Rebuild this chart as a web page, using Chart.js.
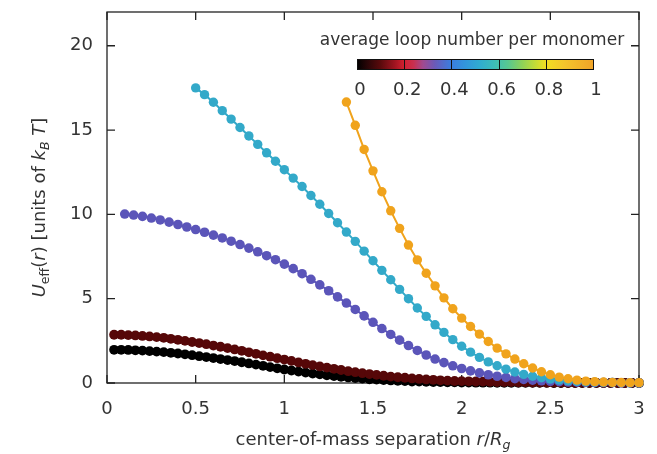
<!DOCTYPE html>
<html>
<head>
<meta charset="utf-8">
<script src="https://cdn.jsdelivr.net/npm/chart.js@4.4.1/dist/chart.umd.min.js"></script>
<style>
  html, body { margin: 0; padding: 0; background: #fff; }
  #wrap { width: 657px; height: 454px; }
</style>
</head>
<body>
<div id="wrap"><canvas id="uChart" width="657" height="454"></canvas></div>
<script>
// separations r/Rg (two grids used by the data)
const rFine = [0.04, 0.08, 0.12, 0.16, 0.20, 0.24, 0.28, 0.32, 0.36, 0.40, 0.44, 0.48, 0.52, 0.56, 0.60, 0.64, 0.68, 0.72, 0.76, 0.80, 0.84, 0.88, 0.92, 0.96, 1.00,
  1.04, 1.08, 1.12, 1.16, 1.20, 1.24, 1.28, 1.32, 1.36, 1.40, 1.44, 1.48, 1.52, 1.56, 1.60, 1.64, 1.68, 1.72, 1.76, 1.80, 1.84, 1.88, 1.92, 1.96, 2.00,
  2.04, 2.08, 2.12, 2.16, 2.20, 2.24, 2.28, 2.32, 2.36, 2.40, 2.44, 2.48, 2.52, 2.56, 2.60, 2.64, 2.68, 2.72, 2.76, 2.80, 2.84, 2.88, 2.92, 2.96, 3.00];
const rCoarse = [0.05, 0.10, 0.15, 0.20, 0.25, 0.30, 0.35, 0.40, 0.45, 0.50, 0.55, 0.60, 0.65, 0.70, 0.75, 0.80, 0.85, 0.90, 0.95, 1.00,
  1.05, 1.10, 1.15, 1.20, 1.25, 1.30, 1.35, 1.40, 1.45, 1.50, 1.55, 1.60, 1.65, 1.70, 1.75, 1.80, 1.85, 1.90, 1.95, 2.00,
  2.05, 2.10, 2.15, 2.20, 2.25, 2.30, 2.35, 2.40, 2.45, 2.50, 2.55, 2.60, 2.65, 2.70, 2.75, 2.80, 2.85, 2.90, 2.95, 3.00];

// U_eff(r) in kT, one array per loop number (fine grid for the first two)
const uLoop0 = [1.97, 1.97, 1.96, 1.94, 1.92, 1.89, 1.86, 1.83, 1.79, 1.75, 1.70, 1.65, 1.59, 1.54, 1.48, 1.42, 1.36, 1.30, 1.23, 1.16, 1.09, 1.02, 0.94, 0.87, 0.80,
  0.74, 0.68, 0.62, 0.56, 0.51, 0.46, 0.41, 0.37, 0.33, 0.29, 0.26, 0.22, 0.20, 0.17, 0.15, 0.13, 0.11, 0.09, 0.08, 0.07, 0.06, 0.05, 0.04, 0.04, 0.03,
  0.03, 0.02, 0.02, 0.02, 0.01, 0.01, 0.01, 0.01, 0.01, 0.01, 0.01, 0.01, 0, 0, 0, 0, 0, 0, 0, 0, 0, 0, 0, 0, 0];
const uLoop01 = [2.86, 2.86, 2.84, 2.82, 2.79, 2.76, 2.72, 2.68, 2.62, 2.56, 2.50, 2.43, 2.37, 2.30, 2.22, 2.15, 2.07, 1.99, 1.91, 1.82, 1.73, 1.64, 1.56, 1.47, 1.39,
  1.31, 1.22, 1.14, 1.06, 0.98, 0.91, 0.84, 0.77, 0.70, 0.64, 0.58, 0.53, 0.48, 0.43, 0.38, 0.34, 0.31, 0.27, 0.24, 0.21, 0.19, 0.16, 0.14, 0.12, 0.11,
  0.10, 0.09, 0.08, 0.07, 0.06, 0.05, 0.05, 0.04, 0.04, 0.03, 0.03, 0.02, 0.02, 0.02, 0.015, 0.01, 0.01, 0.01, 0.01, 0.005, 0.005, 0.005, 0, 0, 0];
const uLoop035 = [10.02, 9.96, 9.88, 9.78, 9.67, 9.54, 9.40, 9.25, 9.10, 8.94, 8.77, 8.60, 8.41, 8.21, 8.00, 7.78, 7.55, 7.31, 7.05,
  6.78, 6.48, 6.15, 5.82, 5.47, 5.11, 4.74, 4.36, 3.98, 3.60, 3.23, 2.88, 2.54, 2.22, 1.93, 1.66, 1.42, 1.21, 1.02, 0.86,
  0.72, 0.60, 0.49, 0.40, 0.33, 0.26, 0.21, 0.17, 0.13, 0.10, 0.08, 0.06, 0.05, 0.04, 0.03, 0.02, 0.02, 0.01, 0.01, 0.01];
const uLoop05 = [17.5, 17.1, 16.65, 16.15, 15.65, 15.15, 14.65, 14.15, 13.65, 13.15, 12.65,
  12.15, 11.65, 11.12, 10.6, 10.05, 9.5, 8.95, 8.4, 7.82, 7.25, 6.68, 6.12, 5.55, 5.0, 4.45, 3.95, 3.45, 3.0, 2.57, 2.18,
  1.83, 1.52, 1.25, 1.02, 0.82, 0.65, 0.51, 0.40, 0.31, 0.23, 0.17, 0.13, 0.10, 0.07, 0.05, 0.04, 0.03, 0.02, 0.01, 0.01];
const uLoop1 = [16.66, 15.28, 13.85, 12.58, 11.34, 10.21, 9.17, 8.18, 7.30, 6.51, 5.76, 5.05, 4.40, 3.85,
  3.35, 2.90, 2.46, 2.07, 1.73, 1.42, 1.14, 0.89, 0.67, 0.49, 0.35, 0.25, 0.17, 0.11, 0.08, 0.06, 0.04, 0.03, 0.02, 0.02];

const xTicks = [0, 0.5, 1, 1.5, 2, 2.5, 3];
const xTickLabels = ['0', '0.5', '1', '1.5', '2', '2.5', '3'];
const yTicks = [0, 5, 10, 15, 20];
const yTickLabels = ['0', '5', '10', '15', '20'];
const cbTicks = [0, 0.2, 0.4, 0.6, 0.8, 1];
const cbTickLabels = ['0', '0.2', '0.4', '0.6', '0.8', '1'];

const FONT = 'DejaVu Sans';
const TXT = '#333333';

function pts(rs, us) {
  const r = rs.slice(rs.length - us.length);
  return us.map((u, i) => ({ x: r[i], y: u }));
}

function series(rs, us, color, rad) {
  return {
    data: pts(rs, us),
    showLine: true,
    borderColor: color,
    borderWidth: 2,
    backgroundColor: color,
    pointRadius: rad,
    pointBorderWidth: 0,
    pointHoverRadius: rad,
    clip: false
  };
}

// rich text: parts with italic / subscript flags
function partFont(p, size) {
  const s = p.sub ? size * 0.7 : size;
  return (p.it ? 'italic ' : '') + s + 'px "' + FONT + '"';
}
function drawRich(ctx, parts, cx, cy, size) {
  let w = 0;
  parts.forEach(p => { ctx.font = partFont(p, size); w += ctx.measureText(p.t).width; });
  let x = cx - w / 2;
  ctx.textAlign = 'left';
  ctx.textBaseline = 'middle';
  parts.forEach(p => {
    ctx.font = partFont(p, size);
    ctx.fillText(p.t, x, cy + (p.sub ? size * 0.3 : 0));
    x += ctx.measureText(p.t).width;
  });
}

const xTitle = [{ t: 'center-of-mass separation ' }, { t: 'r', it: true }, { t: '/' }, { t: 'R', it: true }, { t: 'g', it: true, sub: true }];
const yTitle = [{ t: 'U', it: true }, { t: 'eff', sub: true }, { t: '(' }, { t: 'r', it: true }, { t: ') [units of ' },
  { t: 'k', it: true }, { t: 'B', it: true, sub: true }, { t: ' ' }, { t: 'T', it: true }, { t: ']' }];

const cbStops = [
  [0.00, '#000000'], [0.05, '#2e0608'], [0.10, '#5a0a0c'], [0.16, '#a01420'], [0.20, '#d22030'],
  [0.24, '#c83050'], [0.28, '#a04a90'], [0.33, '#6a5ab8'], [0.40, '#3a7ee0'], [0.46, '#3296dc'],
  [0.52, '#30acd0'], [0.58, '#3cbcb8'], [0.64, '#58c890'], [0.70, '#8ed258'], [0.76, '#c8dc34'],
  [0.80, '#f2de22'], [0.88, '#f4c42c'], [1.00, '#f0a428']
];

const framePlugin = {
  id: 'frame',
  beforeDatasetsDraw(chart) {
    const { ctx, chartArea: a, scales } = chart;
    ctx.save();
    ctx.strokeStyle = '#222';
    ctx.lineWidth = 1.3;
    ctx.strokeRect(a.left, a.top, a.right - a.left, a.bottom - a.top);
    ctx.beginPath();
    const tl = 8;
    xTicks.forEach(v => {
      const px = scales.x.getPixelForValue(v);
      ctx.moveTo(px, a.bottom); ctx.lineTo(px, a.bottom - tl);
      ctx.moveTo(px, a.top); ctx.lineTo(px, a.top + tl);
    });
    yTicks.forEach(v => {
      const py = scales.y.getPixelForValue(v);
      ctx.moveTo(a.left, py); ctx.lineTo(a.left + tl, py);
      ctx.moveTo(a.right, py); ctx.lineTo(a.right - tl, py);
    });
    ctx.stroke();
    ctx.restore();
  },
  afterDraw(chart) {
    const { ctx, chartArea: a } = chart;
    ctx.save();
    ctx.fillStyle = TXT;
    drawRich(ctx, xTitle, (a.left + a.right) / 2, 440, 18);
    ctx.save();
    ctx.translate(40, (a.top + a.bottom) / 2 + 10);
    ctx.rotate(-Math.PI / 2);
    drawRich(ctx, yTitle, 0, 0, 18);
    ctx.restore();

    // colour bar
    const bx = 357, bw = 236, by = 59, bh = 10;
    const g = ctx.createLinearGradient(bx, 0, bx + bw, 0);
    cbStops.forEach(s => g.addColorStop(s[0], s[1]));
    ctx.fillStyle = g;
    ctx.fillRect(bx, by, bw, bh);
    ctx.strokeStyle = '#111';
    ctx.lineWidth = 1;
    ctx.strokeRect(bx + 0.5, by + 0.5, bw, bh);
    ctx.beginPath();
    cbTicks.forEach(v => {
      const px = Math.round(bx + v * bw) + 0.5;
      ctx.moveTo(px, by); ctx.lineTo(px, by + bh);
    });
    ctx.stroke();
    ctx.fillStyle = TXT;
    ctx.font = '18px "' + FONT + '"';
    ctx.textAlign = 'center';
    ctx.textBaseline = 'middle';
    cbTicks.forEach((v, i) => ctx.fillText(cbTickLabels[i], bx + 3 + v * bw, 90));
    ctx.font = '17px "' + FONT + '"';
    ctx.fillText('average loop number per monomer', 472, 41);
    ctx.restore();
  }
};

function noOverflow(s) {
  s.paddingLeft = 0; s.paddingRight = 0; s.paddingTop = 0; s.paddingBottom = 0;
}

new Chart(document.getElementById('uChart'), {
  type: 'scatter',
  data: {
    datasets: [
      series(rCoarse, uLoop1, '#f0a31c', 4.7),
      series(rCoarse, uLoop05, '#33a9c9', 4.7),
      series(rCoarse, uLoop035, '#5b55b9', 4.8),
      series(rFine, uLoop01, '#560708', 4.9),
      series(rFine, uLoop0, '#000000', 4.9)
    ]
  },
  options: {
    responsive: false,
    animation: false,
    devicePixelRatio: 1,
    layout: { padding: { top: 12, right: 18, left: 0, bottom: 0 } },
    plugins: { legend: { display: false }, tooltip: { enabled: false } },
    scales: {
      x: {
        type: 'linear', min: 0, max: 3,
        afterBuildTicks: s => { s.ticks = xTicks.map(v => ({ value: v })); },
        afterFit: s => { s.height = 71; noOverflow(s); },
        grid: { display: false, drawTicks: false },
        border: { display: false },
        ticks: {
          color: TXT, font: { family: FONT, size: 18 }, padding: 16, maxRotation: 0, autoSkip: false,
          callback: v => xTickLabels[xTicks.indexOf(v)]
        }
      },
      y: {
        type: 'linear', min: 0, max: 22,
        afterBuildTicks: s => { s.ticks = yTicks.map(v => ({ value: v })); },
        afterFit: s => { s.width = 107; noOverflow(s); },
        grid: { display: false, drawTicks: false },
        border: { display: false },
        ticks: {
          color: TXT, font: { family: FONT, size: 18 }, padding: 14, autoSkip: false,
          callback: v => yTickLabels[yTicks.indexOf(v)]
        }
      }
    }
  },
  plugins: [framePlugin]
});
</script>
</body>
</html>
